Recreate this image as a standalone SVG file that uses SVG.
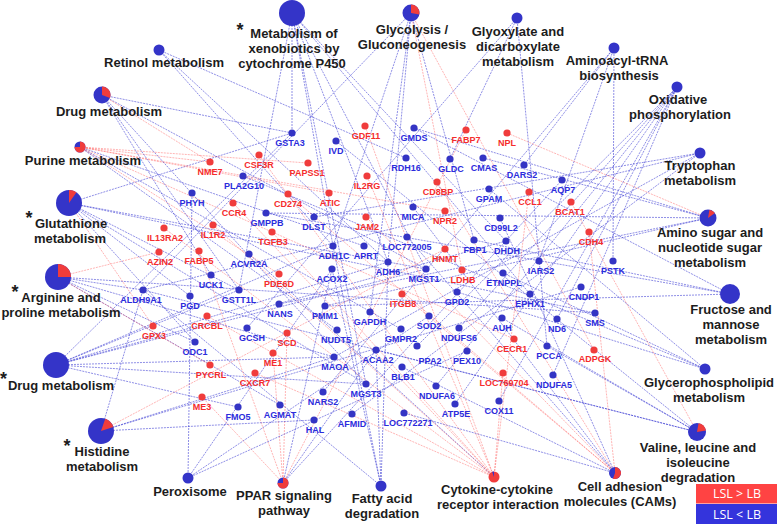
<svg xmlns="http://www.w3.org/2000/svg" width="778" height="524" viewBox="0 0 778 524">
<style>
.eb{stroke:#3b3bd4;stroke-width:.8;stroke-dasharray:2 1;fill:none;opacity:.72}
.er{stroke:#ff5555;stroke-width:.8;stroke-dasharray:2 1;fill:none;opacity:.55}
.gb circle{fill:#3434c4}
.gr circle{fill:#f03c3c}
.gb text,.gr text{font-family:"Liberation Sans",Arial,sans-serif;font-weight:bold;font-size:9px;text-anchor:middle}
.gb text{fill:#2b2bdc}
.gr text{fill:#f52c2c}
.pw text{font-family:"Liberation Sans",Arial,sans-serif;font-weight:bold;font-size:13px;fill:#1c1c1c;text-anchor:middle}
.pw text.st{font-size:18px}
.pb{fill:#3434c8}
.pr{fill:#f03c3c}
.lg{font-family:"Open Sans","Liberation Sans",sans-serif;font-size:12.5px;fill:#fff;text-anchor:middle}
</style>
<rect width="778" height="524" fill="#fff"/>
<g id="connectors">
<path class="eb" d="M292 13L292 133M292 13L239 290M292 13L426 269M292 13L366 384M292 13L333 246M292 13L388 262M292 13L530 294M292 13L506 241"/>
<path class="eb" d="M411 13L370 312M411 13L474 240M411 13L333 246M411 13L388 262M411 13L143 290"/>
<path class="er" d="M411 13L462 270M411 13L594 350"/>
<path class="eb" d="M517 18L450 159M517 18L247 328M517 18L547 346"/>
<path class="eb" d="M614 48L524 165M614 48L539 261M614 48L323 392M614 48L613 261"/>
<path class="eb" d="M677 87L557 319M677 87L459 328M677 87L553 375M677 87L436 386M677 87L455 404M677 87L499 401M677 87L417 346"/>
<path class="eb" d="M700 153L352 414M700 153L334 357M700 153L143 290M700 153L314 217"/>
<path class="eb" d="M708 218L414 128M708 218L266 213M708 218L483 158M708 218L279 304M708 218L325 306"/>
<path class="er" d="M708 218L507 133"/>
<path class="eb" d="M730 294L414 128M730 294L266 213M730 294L325 306M730 294L474 240"/>
<path class="eb" d="M705 369L489 189M705 369L457 292M705 369L243 176M705 369L503 273"/>
<path class="eb" d="M697 432L336 141M697 432L502 318M697 432L547 346M697 432L376 350M697 432L143 290"/>
<path class="er" d="M697 432L571 202"/>
<path class="eb" d="M615 473L413 207M615 473L402 367M615 473L500 218M615 473L407 237M615 473L404 413"/>
<path class="er" d="M615 473L288 194M615 473L366 217M615 473L437 182M615 473L402 294M615 473L589 232"/>
<path class="eb" d="M494 477L249 254"/>
<path class="er" d="M494 477L259 155M494 477L367 176M494 477L233 203M494 477L213 225M494 477L272 232M494 477L529 192M494 477L164 228M494 477L255 373M494 477L365 126M494 477L503 373M494 477L207 316"/>
<path class="eb" d="M381 486L376 350M381 486L332 269M381 486L143 290M381 486L333 246M381 486L388 262"/>
<path class="eb" d="M283 483L332 269M283 483L376 350M283 483L562 180"/>
<path class="er" d="M283 483L466 130M283 483L199 251M283 483L287 333M283 483L273 353M283 483L202 397"/>
<path class="eb" d="M188 478L192 193M188 478L332 269M188 478L467 351M188 478L429 316"/>
<path class="eb" d="M101 431L314 420M101 431L143 290M101 431L334 357M101 431L581 287"/>
<path class="er" d="M101 431L445 249"/>
<path class="eb" d="M56 365L292 133M56 365L239 290M56 365L426 269M56 365L366 384M56 365L238 407M56 365L334 357M56 365L333 246M56 365L388 262M56 365L506 241"/>
<path class="eb" d="M58 277L143 290M58 277L195 342M58 277L280 405M58 277L334 357M58 277L595 313"/>
<path class="er" d="M58 277L210 365M58 277L159 252"/>
<path class="eb" d="M69 203L195 342M69 203L190 296M69 203L292 133M69 203L239 290M69 203L426 269M69 203L366 384M69 203L595 313"/>
<path class="er" d="M69 203L153 326"/>
<path class="eb" d="M80 147L364 246M80 147L401 329M80 147L337 330"/>
<path class="er" d="M80 147L210 162M80 147L308 163M80 147L329 193M80 147L445 211M80 147L279 274M80 147L514 339"/>
<path class="eb" d="M102 95L211 275M102 95L292 133M102 95L239 290M102 95L426 269M102 95L366 384"/>
<path class="er" d="M102 95L210 162"/>
<path class="eb" d="M159 50L406 158M159 50L333 246M159 50L388 262"/>
</g>
<g id="pathways" class="pw">
<g id="p-xenobiotics"><circle class="pb" cx="292" cy="13" r="13"/><text class="st" x="240" y="36">*</text><text x="294" y="37.5">Metabolism of</text><text x="294" y="52.5">xenobiotics by</text><text x="292" y="67.5">cytochrome P450</text></g>
<g id="p-glycolysis"><circle class="pb" cx="411" cy="13" r="8.5"/><path class="pr" d="M411 13L411 4.5A8.5 8.5 0 0 1 419.37 14.48Z"/><text x="412" y="34">Glycolysis /</text><text x="412" y="49">Gluconeogenesis</text></g>
<g id="p-glyoxylate"><circle class="pb" cx="517" cy="18" r="5.5"/><text x="518" y="36">Glyoxylate and</text><text x="518" y="51">dicarboxylate</text><text x="518" y="66">metabolism</text></g>
<g id="p-aminoacyl"><circle class="pb" cx="614" cy="48" r="5.5"/><text x="617" y="65">Aminoacyl-tRNA</text><text x="619" y="80">biosynthesis</text></g>
<g id="p-oxphos"><circle class="pb" cx="677" cy="87" r="5.5"/><text x="678" y="104">Oxidative</text><text x="680" y="119">phosphorylation</text></g>
<g id="p-tryptophan"><circle class="pb" cx="700" cy="153" r="5.5"/><text x="700" y="170">Tryptophan</text><text x="700" y="185">metabolism</text></g>
<g id="p-aminosugar"><circle class="pb" cx="708" cy="218" r="8.5"/><path class="pr" d="M708 218L709.48 209.63A8.5 8.5 0 0 1 714.96 213.12Z"/><text x="710" y="237">Amino sugar and</text><text x="710" y="252">nucleotide sugar</text><text x="710" y="267">metabolism</text></g>
<g id="p-fructose"><circle class="pb" cx="730" cy="294" r="10"/><text x="731" y="314">Fructose and</text><text x="731" y="329">mannose</text><text x="731" y="344">metabolism</text></g>
<g id="p-glycerophospholipid"><circle class="pb" cx="705" cy="369" r="5.5"/><text x="709" y="387">Glycerophospholipid</text><text x="709" y="402">metabolism</text></g>
<g id="p-valine"><circle class="pb" cx="697" cy="432" r="9"/><path class="pr" d="M697 432L698.56 423.14A9 9 0 0 1 705.86 430.43Z"/><text x="698" y="452">Valine, leucine and</text><text x="698" y="467">isoleucine</text><text x="698" y="482">degradation</text></g>
<g id="p-cams"><circle class="pb" cx="615" cy="473" r="6"/><path class="pr" d="M615 473L615 467A6 6 0 1 1 612.95 478.64Z"/><text x="620" y="491">Cell adhesion</text><text x="620" y="506">molecules (CAMs)</text></g>
<g id="p-cytokine"><circle class="pr" cx="494" cy="477" r="5.5"/><path class="pb" d="M494 477L492.12 471.83A5.5 5.5 0 0 1 494 471.5Z"/><text x="497" y="494">Cytokine-cytokine</text><text x="498" y="509">receptor interaction</text></g>
<g id="p-fattyacid"><circle class="pb" cx="381" cy="486" r="5.5"/><text x="382" y="503">Fatty acid</text><text x="382" y="518">degradation</text></g>
<g id="p-ppar"><circle class="pb" cx="283" cy="483" r="5.5"/><path class="pr" d="M283 483L283 477.5A5.5 5.5 0 1 1 277.5 483Z"/><text x="284" y="500">PPAR signaling</text><text x="284" y="515">pathway</text></g>
<g id="p-peroxisome"><circle class="pb" cx="188" cy="478" r="5.5"/><text x="190" y="496">Peroxisome</text></g>
<g id="p-histidine"><circle class="pb" cx="101" cy="431" r="13"/><path class="pr" d="M101 431L105.24 418.7A13 13 0 0 1 113.36 426.98Z"/><text class="st" x="67" y="452">*</text><text x="102" y="456">Histidine</text><text x="102" y="471">metabolism</text></g>
<g id="p-drug2"><circle class="pb" cx="56" cy="365" r="13"/><text class="st" x="3.5" y="385">*</text><text x="61" y="390">Drug metabolism</text></g>
<g id="p-arginine"><circle class="pb" cx="58" cy="277" r="13"/><path class="pr" d="M58 277L58 264A13 13 0 0 1 71 277Z"/><text class="st" x="15" y="298">*</text><text x="61" y="302">Arginine and</text><text x="61" y="317">proline metabolism</text></g>
<g id="p-glutathione"><circle class="pb" cx="69" cy="203" r="13"/><path class="pr" d="M69 203L69 190A13 13 0 0 1 76.46 192.35Z"/><text class="st" x="29" y="224">*</text><text x="71" y="228">Glutathione</text><text x="70" y="243">metabolism</text></g>
<g id="p-purine"><circle class="pb" cx="80" cy="147" r="5.5"/><path class="pr" d="M80 147L80 141.5A5.5 5.5 0 1 1 74.5 147Z"/><text x="83" y="165">Purine metabolism</text></g>
<g id="p-drug1"><circle class="pb" cx="102" cy="95" r="8.5"/><path class="pr" d="M102 95L102 86.5A8.5 8.5 0 0 1 109.99 97.91Z"/><text x="109" y="116">Drug metabolism</text></g>
<g id="p-retinol"><circle class="pb" cx="159" cy="50" r="5.5"/><text x="164" y="67">Retinol metabolism</text></g>
</g>
<g id="genes">
<g id="GSTA3" class="gb"><circle cx="292" cy="133" r="3.6"/><text x="290" y="146">GSTA3</text></g>
<g id="IVD" class="gb"><circle cx="336" cy="141" r="3.6"/><text x="336" y="154">IVD</text></g>
<g id="GDF11" class="gr"><circle cx="365" cy="126" r="3.6"/><text x="366" y="139">GDF11</text></g>
<g id="CSF3R" class="gr"><circle cx="259" cy="155" r="3.6"/><text x="259" y="168">CSF3R</text></g>
<g id="NME7" class="gr"><circle cx="210" cy="162" r="3.6"/><text x="210" y="175">NME7</text></g>
<g id="PAPSS1" class="gr"><circle cx="308" cy="163" r="3.6"/><text x="307" y="176">PAPSS1</text></g>
<g id="GMDS" class="gb"><circle cx="414" cy="128" r="3.6"/><text x="414" y="141">GMDS</text></g>
<g id="FABP7" class="gr"><circle cx="466" cy="130" r="3.6"/><text x="466" y="143">FABP7</text></g>
<g id="NPL" class="gr"><circle cx="507" cy="133" r="3.6"/><text x="507" y="146">NPL</text></g>
<g id="RDH16" class="gb"><circle cx="406" cy="158" r="3.6"/><text x="406" y="171">RDH16</text></g>
<g id="GLDC" class="gb"><circle cx="450" cy="159" r="3.6"/><text x="451" y="172">GLDC</text></g>
<g id="CMAS" class="gb"><circle cx="483" cy="158" r="3.6"/><text x="484" y="171">CMAS</text></g>
<g id="DARS2" class="gb"><circle cx="524" cy="165" r="3.6"/><text x="522" y="178">DARS2</text></g>
<g id="AQP7" class="gb"><circle cx="562" cy="180" r="3.6"/><text x="563" y="193">AQP7</text></g>
<g id="PLA2G10" class="gb"><circle cx="243" cy="176" r="3.6"/><text x="244" y="189">PLA2G10</text></g>
<g id="IL2RG" class="gr"><circle cx="367" cy="176" r="3.6"/><text x="367" y="189">IL2RG</text></g>
<g id="ATIC" class="gr"><circle cx="329" cy="193" r="3.6"/><text x="330" y="206">ATIC</text></g>
<g id="CD274" class="gr"><circle cx="288" cy="194" r="3.6"/><text x="288" y="207">CD274</text></g>
<g id="PHYH" class="gb"><circle cx="192" cy="193" r="3.6"/><text x="192" y="206">PHYH</text></g>
<g id="CCR4" class="gr"><circle cx="233" cy="203" r="3.6"/><text x="234" y="216">CCR4</text></g>
<g id="GMPPB" class="gb"><circle cx="266" cy="213" r="3.6"/><text x="267" y="226">GMPPB</text></g>
<g id="DLST" class="gb"><circle cx="314" cy="217" r="3.6"/><text x="314" y="230">DLST</text></g>
<g id="JAM2" class="gr"><circle cx="366" cy="217" r="3.6"/><text x="367" y="230">JAM2</text></g>
<g id="IL1R2" class="gr"><circle cx="213" cy="225" r="3.6"/><text x="213" y="238">IL1R2</text></g>
<g id="TGFB3" class="gr"><circle cx="272" cy="232" r="3.6"/><text x="273" y="245">TGFB3</text></g>
<g id="ADH1C" class="gb"><circle cx="333" cy="246" r="3.6"/><text x="334" y="259">ADH1C</text></g>
<g id="APRT" class="gb"><circle cx="364" cy="246" r="3.6"/><text x="366" y="259">APRT</text></g>
<g id="FABP5" class="gr"><circle cx="199" cy="251" r="3.6"/><text x="199" y="264">FABP5</text></g>
<g id="ACVR2A" class="gb"><circle cx="249" cy="254" r="3.6"/><text x="249" y="267">ACVR2A</text></g>
<g id="ADH6" class="gb"><circle cx="388" cy="262" r="3.6"/><text x="388" y="275">ADH6</text></g>
<g id="PDE6D" class="gr"><circle cx="279" cy="274" r="3.6"/><text x="279" y="287">PDE6D</text></g>
<g id="ACOX2" class="gb"><circle cx="332" cy="269" r="3.6"/><text x="332" y="282">ACOX2</text></g>
<g id="UCK1" class="gb"><circle cx="211" cy="275" r="3.6"/><text x="211" y="288">UCK1</text></g>
<g id="GSTT1L" class="gb"><circle cx="239" cy="290" r="3.6"/><text x="239" y="303">GSTT1L</text></g>
<g id="PGD" class="gb"><circle cx="190" cy="296" r="3.6"/><text x="190" y="309">PGD</text></g>
<g id="NANS" class="gb"><circle cx="279" cy="304" r="3.6"/><text x="280" y="317">NANS</text></g>
<g id="PMM1" class="gb"><circle cx="325" cy="306" r="3.6"/><text x="325" y="319">PMM1</text></g>
<g id="GAPDH" class="gb"><circle cx="370" cy="312" r="3.6"/><text x="370" y="325">GAPDH</text></g>
<g id="CRCBL" class="gr"><circle cx="207" cy="316" r="3.6"/><text x="207" y="329">CRCBL</text></g>
<g id="GCSH" class="gb"><circle cx="247" cy="328" r="3.6"/><text x="252" y="341">GCSH</text></g>
<g id="SCD" class="gr"><circle cx="287" cy="333" r="3.6"/><text x="287" y="346">SCD</text></g>
<g id="NUDT5" class="gb"><circle cx="337" cy="330" r="3.6"/><text x="336" y="343">NUDT5</text></g>
<g id="ODC1" class="gb"><circle cx="195" cy="342" r="3.6"/><text x="195" y="355">ODC1</text></g>
<g id="LOC772005" class="gb"><circle cx="407" cy="237" r="3.6"/><text x="407" y="250">LOC772005</text></g>
<g id="CD8BP" class="gr"><circle cx="437" cy="182" r="3.6"/><text x="438" y="195">CD8BP</text></g>
<g id="GPAM" class="gb"><circle cx="489" cy="189" r="3.6"/><text x="489" y="202">GPAM</text></g>
<g id="CCL1" class="gr"><circle cx="529" cy="192" r="3.6"/><text x="530" y="205">CCL1</text></g>
<g id="BCAT1" class="gr"><circle cx="571" cy="202" r="3.6"/><text x="570" y="215">BCAT1</text></g>
<g id="MICA" class="gb"><circle cx="413" cy="207" r="3.6"/><text x="413" y="220">MICA</text></g>
<g id="NPR2" class="gr"><circle cx="445" cy="211" r="3.6"/><text x="445" y="224">NPR2</text></g>
<g id="CD99L2" class="gb"><circle cx="500" cy="218" r="3.6"/><text x="501" y="231">CD99L2</text></g>
<g id="FBP1" class="gb"><circle cx="474" cy="240" r="3.6"/><text x="475" y="253">FBP1</text></g>
<g id="DHDH" class="gb"><circle cx="506" cy="241" r="3.6"/><text x="507" y="254">DHDH</text></g>
<g id="HNMT" class="gr"><circle cx="445" cy="249" r="3.6"/><text x="445" y="262">HNMT</text></g>
<g id="IARS2" class="gb"><circle cx="539" cy="261" r="3.6"/><text x="541" y="274">IARS2</text></g>
<g id="MGST1" class="gb"><circle cx="426" cy="269" r="3.6"/><text x="424" y="282">MGST1</text></g>
<g id="LDHB" class="gr"><circle cx="462" cy="270" r="3.6"/><text x="463" y="283">LDHB</text></g>
<g id="ETNPPL" class="gb"><circle cx="503" cy="273" r="3.6"/><text x="504" y="286">ETNPPL</text></g>
<g id="CNDP1" class="gb"><circle cx="581" cy="287" r="3.6"/><text x="584" y="300">CNDP1</text></g>
<g id="ITGB8" class="gr"><circle cx="402" cy="294" r="3.6"/><text x="403" y="307">ITGB8</text></g>
<g id="GPD2" class="gb"><circle cx="457" cy="292" r="3.6"/><text x="457" y="305">GPD2</text></g>
<g id="EPHX1" class="gb"><circle cx="530" cy="294" r="3.6"/><text x="530" y="307">EPHX1</text></g>
<g id="SOD2" class="gb"><circle cx="429" cy="316" r="3.6"/><text x="429" y="329">SOD2</text></g>
<g id="AUH" class="gb"><circle cx="502" cy="318" r="3.6"/><text x="502" y="331">AUH</text></g>
<g id="ND6" class="gb"><circle cx="557" cy="319" r="3.6"/><text x="557" y="332">ND6</text></g>
<g id="GMPR2" class="gb"><circle cx="401" cy="329" r="3.6"/><text x="401" y="342">GMPR2</text></g>
<g id="NDUFS6" class="gb"><circle cx="459" cy="328" r="3.6"/><text x="459" y="341">NDUFS6</text></g>
<g id="CECR1" class="gr"><circle cx="514" cy="339" r="3.6"/><text x="512" y="352">CECR1</text></g>
<g id="PCCA" class="gb"><circle cx="547" cy="346" r="3.6"/><text x="549" y="359">PCCA</text></g>
<g id="CDH4" class="gr"><circle cx="589" cy="232" r="3.6"/><text x="591" y="245">CDH4</text></g>
<g id="PSTK" class="gb"><circle cx="613" cy="261" r="3.6"/><text x="613" y="274">PSTK</text></g>
<g id="SMS" class="gb"><circle cx="595" cy="313" r="3.6"/><text x="595" y="326">SMS</text></g>
<g id="ADPGK" class="gr"><circle cx="594" cy="350" r="3.6"/><text x="595" y="362">ADPGK</text></g>
<g id="IL13RA2" class="gr"><circle cx="164" cy="228" r="3.6"/><text x="165" y="241">IL13RA2</text></g>
<g id="AZIN2" class="gr"><circle cx="159" cy="252" r="3.6"/><text x="160" y="265">AZIN2</text></g>
<g id="ALDH9A1" class="gb"><circle cx="143" cy="290" r="3.6"/><text x="141" y="303">ALDH9A1</text></g>
<g id="GPX3" class="gr"><circle cx="153" cy="326" r="3.6"/><text x="154" y="339">GPX3</text></g>
<g id="ME1" class="gr"><circle cx="273" cy="353" r="3.6"/><text x="273" y="366">ME1</text></g>
<g id="MAOA" class="gb"><circle cx="334" cy="357" r="3.6"/><text x="335" y="370">MAOA</text></g>
<g id="ACAA2" class="gb"><circle cx="376" cy="350" r="3.6"/><text x="378" y="363">ACAA2</text></g>
<g id="PYCRL" class="gr"><circle cx="210" cy="365" r="3.6"/><text x="211" y="378">PYCRL</text></g>
<g id="CXCR7" class="gr"><circle cx="255" cy="373" r="3.6"/><text x="255" y="386">CXCR7</text></g>
<g id="NARS2" class="gb"><circle cx="323" cy="392" r="3.6"/><text x="323" y="405">NARS2</text></g>
<g id="MGST3" class="gb"><circle cx="366" cy="384" r="3.6"/><text x="366" y="397">MGST3</text></g>
<g id="ME3" class="gr"><circle cx="202" cy="397" r="3.6"/><text x="202" y="410">ME3</text></g>
<g id="FMO5" class="gb"><circle cx="238" cy="407" r="3.6"/><text x="238" y="420">FMO5</text></g>
<g id="AGMAT" class="gb"><circle cx="280" cy="405" r="3.6"/><text x="280" y="418">AGMAT</text></g>
<g id="HAL" class="gb"><circle cx="314" cy="420" r="3.6"/><text x="315" y="433">HAL</text></g>
<g id="AFMID" class="gb"><circle cx="352" cy="414" r="3.6"/><text x="352" y="427">AFMID</text></g>
<g id="LOC772271" class="gb"><circle cx="404" cy="413" r="3.6"/><text x="408" y="426">LOC772271</text></g>
<g id="PPA2" class="gb"><circle cx="417" cy="346" r="3.6"/><text x="430" y="364">PPA2</text></g>
<g id="PEX10" class="gb"><circle cx="467" cy="351" r="3.6"/><text x="467" y="364">PEX10</text></g>
<g id="BLB1" class="gb"><circle cx="402" cy="367" r="3.6"/><text x="403" y="380">BLB1</text></g>
<g id="LOC769704" class="gr"><circle cx="503" cy="373" r="3.6"/><text x="504" y="386">LOC769704</text></g>
<g id="NDUFA6" class="gb"><circle cx="436" cy="386" r="3.6"/><text x="437" y="399">NDUFA6</text></g>
<g id="NDUFA5" class="gb"><circle cx="553" cy="375" r="3.6"/><text x="554" y="388">NDUFA5</text></g>
<g id="COX11" class="gb"><circle cx="499" cy="401" r="3.6"/><text x="499" y="414">COX11</text></g>
<g id="ATP5E" class="gb"><circle cx="455" cy="404" r="3.6"/><text x="456" y="417">ATP5E</text></g>
</g>
<g id="legend">
<rect x="696" y="484" width="81" height="19.5" fill="#ff4343"/>
<rect x="696" y="504" width="81" height="20" fill="#3434dc"/>
<text class="lg" x="737" y="498">LSL &gt; LB</text>
<text class="lg" x="737" y="518.5">LSL &lt; LB</text>
</g>
</svg>
